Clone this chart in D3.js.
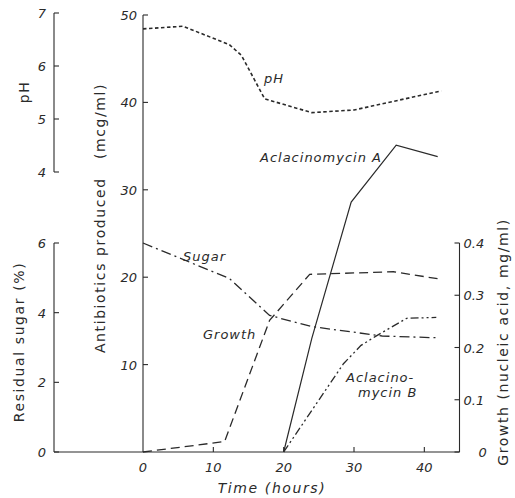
<!DOCTYPE html>
<html>
<head>
<meta charset="utf-8">
<script src="https://cdn.jsdelivr.net/npm/d3@7"></script>
<style>
  body { margin: 0; background: #fff; }
  svg { display: block; }
  text { font-family: "DejaVu Sans", sans-serif; fill: #2a2a2a; }
  .tick-lbl { font-size: 13px; font-style: italic; }
  .title { font-size: 14px; letter-spacing: 1.6px; }
  .curve-lbl { font-size: 13px; font-style: italic; letter-spacing: 1px; }
  .ax { stroke: #2a2a2a; stroke-width: 1.1; fill: none; }
  .curve { fill: none; stroke: #2a2a2a; stroke-width: 1.2; }
</style>
</head>
<body>
<svg width="515" height="498"></svg>
<script>
// valores (tempo em horas)
const phTime = [0, 5.7, 12.3, 14, 17.3, 24, 30, 42.4];
const phValue = [6.70, 6.75, 6.40, 6.20, 5.38, 5.12, 5.17, 5.53];

const aclaATime = [20, 24, 29.6, 36, 41.9];
const aclaAValue = [0, 13, 28.6, 35.1, 33.8];

const aclaBTime = [20, 28.5, 31, 33, 37.5, 41.7];
const aclaBValue = [0, 10.1, 12.2, 13.2, 15.3, 15.4];

const growthTime = [0, 11.6, 18, 23.7, 35.6, 42.2];
const growthValue = [0, 0.02, 0.252, 0.34, 0.345, 0.331];

const sugarTime = [0, 12.3, 18, 24, 34, 41.7];
const sugarValue = [6.0, 4.98, 3.92, 3.6, 3.33, 3.28];

const xTicks = [0, 10, 20, 30, 40];
const mainTicks = [10, 20, 30, 40, 50];
const phTicks = [4, 5, 6, 7];
const sugarTicks = [0, 2, 4, 6];
const growthTicks = [0, 0.1, 0.2, 0.3, 0.4];

const svg = d3.select("svg");

// escalas
const x = d3.scaleLinear().domain([0, 45]).range([143, 459.5]);
const yMain = d3.scaleLinear().domain([0, 50]).range([452, 15]);
const yPH = d3.scaleLinear().domain([4, 7]).range([172, 13]);
const ySugar = d3.scaleLinear().domain([0, 6]).range([452, 243]);
const yGrowth = d3.scaleLinear().domain([0, 0.4]).range([452, 243]);

const LEFT_X = 54;
const TICK = 5;

// eixo x (vai do eixo do açúcar ao eixo do crescimento)
svg.append("line").attr("class", "ax")
  .attr("x1", LEFT_X).attr("x2", x(45))
  .attr("y1", yMain(0)).attr("y2", yMain(0));
svg.selectAll(".xt").data(xTicks.filter(d => d > 0)).enter()
  .append("line").attr("class", "ax")
  .attr("x1", d => x(d)).attr("x2", d => x(d))
  .attr("y1", yMain(0)).attr("y2", yMain(0) - TICK);
svg.selectAll(".xl").data(xTicks).enter()
  .append("text").attr("class", "tick-lbl")
  .attr("x", d => x(d)).attr("y", 472)
  .attr("text-anchor", "middle")
  .text(d => d);

// eixo principal (antibióticos)
svg.append("line").attr("class", "ax")
  .attr("x1", x(0)).attr("x2", x(0))
  .attr("y1", yMain(50)).attr("y2", yMain(0));
svg.selectAll(".mt").data(mainTicks).enter()
  .append("line").attr("class", "ax")
  .attr("x1", x(0)).attr("x2", x(0) + TICK)
  .attr("y1", d => yMain(d)).attr("y2", d => yMain(d));
svg.selectAll(".ml").data(mainTicks).enter()
  .append("text").attr("class", "tick-lbl")
  .attr("x", x(0) - 6).attr("y", d => yMain(d) + 5)
  .attr("text-anchor", "end")
  .text(d => d);

// eixo do pH
svg.append("line").attr("class", "ax")
  .attr("x1", LEFT_X).attr("x2", LEFT_X)
  .attr("y1", yPH(7)).attr("y2", yPH(4));
svg.selectAll(".pt").data(phTicks).enter()
  .append("line").attr("class", "ax")
  .attr("x1", LEFT_X).attr("x2", LEFT_X + TICK)
  .attr("y1", d => yPH(d)).attr("y2", d => yPH(d));
svg.selectAll(".pl").data(phTicks).enter()
  .append("text").attr("class", "tick-lbl")
  .attr("x", LEFT_X - 8).attr("y", d => yPH(d) + 5)
  .attr("text-anchor", "end")
  .text(d => d);

// eixo do açúcar residual
svg.append("line").attr("class", "ax")
  .attr("x1", LEFT_X).attr("x2", LEFT_X)
  .attr("y1", ySugar(6)).attr("y2", ySugar(0));
svg.selectAll(".st").data(sugarTicks).enter()
  .append("line").attr("class", "ax")
  .attr("x1", LEFT_X).attr("x2", LEFT_X + TICK)
  .attr("y1", d => ySugar(d)).attr("y2", d => ySugar(d));
svg.selectAll(".sl").data(sugarTicks).enter()
  .append("text").attr("class", "tick-lbl")
  .attr("x", LEFT_X - 8).attr("y", d => ySugar(d) + 5)
  .attr("text-anchor", "end")
  .text(d => d);

// eixo do crescimento (direita)
const RIGHT_X = x(45);
svg.append("line").attr("class", "ax")
  .attr("x1", RIGHT_X).attr("x2", RIGHT_X)
  .attr("y1", yGrowth(0.4)).attr("y2", yGrowth(0));
svg.selectAll(".gt").data(growthTicks).enter()
  .append("line").attr("class", "ax")
  .attr("x1", RIGHT_X).attr("x2", RIGHT_X - TICK)
  .attr("y1", d => yGrowth(d)).attr("y2", d => yGrowth(d));
svg.selectAll(".gl").data(growthTicks).enter()
  .append("text").attr("class", "tick-lbl")
  .attr("x", d => d === 0 ? RIGHT_X + 19 : RIGHT_X + 4)
  .attr("y", d => yGrowth(d) + 5)
  .text(d => d === 0 ? "0" : d.toFixed(1));

// títulos dos eixos
function vTitle(cx, cy, txt) {
  svg.append("text").attr("class", "title")
    .attr("transform", `translate(${cx},${cy}) rotate(-90)`)
    .attr("text-anchor", "middle")
    .attr("dy", "0.35em")
    .text(txt);
}
vTitle(24, 92, "pH");
vTitle(19, 342, "Residual sugar (%)");
vTitle(100, 218, "Antibiotics produced\u00a0\u00a0\u00a0(mcg/ml)");
vTitle(503, 342, "Growth (nucleic acid, mg/ml)");
svg.append("text").attr("class", "title")
  .attr("x", 272).attr("y", 493)
  .attr("text-anchor", "middle")
  .style("font-style", "italic")
  .text("Time (hours)");

// curvas
function drawCurve(ts, vs, yScale, dash, width) {
  const pts = ts.map((t, i) => [t, vs[i]]);
  const line = d3.line().x(d => x(d[0])).y(d => yScale(d[1]));
  svg.append("path").attr("class", "curve")
    .attr("d", line(pts))
    .attr("stroke-dasharray", dash)
    .style("stroke-width", width || 1.2);
}
drawCurve(phTime, phValue, yPH, "3.5,2.5", 1.6);
drawCurve(aclaATime, aclaAValue, yMain, null);
drawCurve(growthTime, growthValue, yGrowth, "9,5", 1.3);
drawCurve(sugarTime, sugarValue, ySugar, "10,4,2,4", 1.3);
drawCurve(aclaBTime, aclaBValue, yMain, "8,3,2,3,2,3", 1.3);

// rótulos das curvas
const labels = [
  { t: "pH", x: 264, y: 83 },
  { t: "Aclacinomycin A", x: 260, y: 162 },
  { t: "Sugar", x: 183, y: 261 },
  { t: "Growth", x: 203, y: 339 },
  { t: "Aclacino-", x: 346, y: 382 },
  { t: "mycin B", x: 358, y: 397 }
];
svg.selectAll(".cl").data(labels).enter()
  .append("text").attr("class", "curve-lbl")
  .attr("x", d => d.x).attr("y", d => d.y)
  .text(d => d.t);
</script>
</body>
</html>
